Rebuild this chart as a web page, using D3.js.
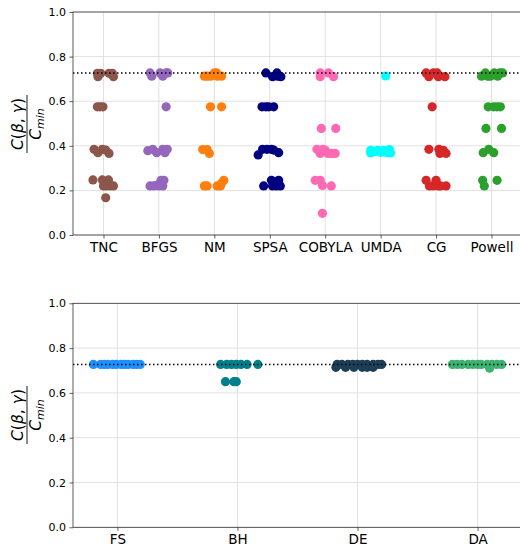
<!DOCTYPE html>
<html>
<head>
<meta charset="utf-8">
<script src="https://cdn.jsdelivr.net/npm/d3@7"></script>
<style>
  body { margin: 0; background: #fff; }
  svg { display: block; font-family: "DejaVu Sans", sans-serif; }
</style>
</head>
<body>
<svg id="chart" width="520" height="550"></svg>
<script>
// values: each point is [jitter in category units, C/Cmin]
const topCategories = ["TNC", "BFGS", "NM", "SPSA", "COBYLA", "UMDA", "CG", "Powell"];
const bottomCategories = ["FS", "BH", "DE", "DA"];
const yTicks = [0, 0.2, 0.4, 0.6, 0.8, 1.0];
const refValue = 0.727;

const tnc = [[-0.11, 0.725], [-0.05, 0.725], [-0.10, 0.71], [0.10, 0.725], [0.16, 0.725], [0.18, 0.71],
  [-0.11, 0.575], [-0.06, 0.575], [-0.01, 0.575],
  [-0.17, 0.384], [-0.10, 0.369], [-0.02, 0.384], [0.04, 0.381], [0.10, 0.366],
  [-0.19, 0.247], [-0.02, 0.247], [0.09, 0.247], [0, 0.22], [0.05, 0.22], [0.12, 0.22], [0.18, 0.22],
  [0.04, 0.167]];
const bfgs = [[-0.16, 0.727], [-0.13, 0.712], [0.02, 0.727], [0.07, 0.712], [0.13, 0.727], [0.16, 0.727],
  [0.13, 0.575],
  [-0.20, 0.378], [-0.11, 0.384], [-0.04, 0.369], [0.07, 0.384], [0.11, 0.369], [0.15, 0.384],
  [-0.16, 0.22], [-0.09, 0.22], [-0.02, 0.225], [0.04, 0.245], [0.09, 0.245], [0.07, 0.22], [0, 0.22]];
const nm = [[-0.18, 0.712], [-0.13, 0.712], [-0.07, 0.712], [0, 0.727], [0.04, 0.727], [0.05, 0.712], [0.13, 0.712],
  [-0.07, 0.575], [0.13, 0.575],
  [-0.21, 0.383], [-0.13, 0.383], [-0.09, 0.366],
  [-0.18, 0.22], [-0.13, 0.22], [0.05, 0.22], [0.11, 0.22], [0.13, 0.232], [0.17, 0.245]];
const spsa = [[-0.07, 0.727], [0.05, 0.71], [0.13, 0.727], [0.14, 0.712], [0.20, 0.71],
  [-0.14, 0.575], [-0.07, 0.575], [-0.02, 0.575], [0.07, 0.575],
  [-0.21, 0.359], [-0.13, 0.384], [-0.05, 0.384], [0.03, 0.384], [0.07, 0.381], [0.16, 0.369],
  [-0.11, 0.22], [0.03, 0.245], [0.05, 0.22], [0.12, 0.22], [0.16, 0.245], [0.19, 0.22]];
const cobyla = [[-0.09, 0.727], [-0.09, 0.71], [0.06, 0.727], [0.15, 0.71],
  [-0.07, 0.478], [0.19, 0.478],
  [-0.15, 0.384], [-0.09, 0.366], [-0.04, 0.384], [0, 0.38], [0.05, 0.366], [0.11, 0.366], [0.18, 0.366],
  [-0.18, 0.245], [-0.09, 0.245], [-0.05, 0.222], [0.11, 0.22],
  [-0.05, 0.097]];
const umda = [[0.09, 0.713],
  [-0.18, 0.38], [-0.18, 0.368], [-0.11, 0.375], [-0.05, 0.38], [0, 0.37], [0.05, 0.38], [0.11, 0.37],
  [0.16, 0.383], [0.18, 0.368]];
const cg = [[-0.18, 0.727], [-0.13, 0.71], [-0.05, 0.727], [0.02, 0.727], [0.04, 0.71], [0.16, 0.71],
  [-0.07, 0.575],
  [-0.13, 0.384], [0.05, 0.384], [0.07, 0.366], [0.09, 0.375], [0.13, 0.38], [0.18, 0.366],
  [-0.18, 0.245], [-0.12, 0.22], [-0.05, 0.22], [0, 0.245], [0.04, 0.22], [0.08, 0.22], [0.18, 0.22]];
const powell = [[-0.18, 0.712], [-0.11, 0.727], [-0.07, 0.712], [-0.02, 0.712], [0.05, 0.727], [0.11, 0.712],
  [0.15, 0.727], [0.20, 0.727],
  [-0.06, 0.575], [0.04, 0.575], [0.10, 0.575], [0.16, 0.575],
  [-0.10, 0.478], [0.18, 0.478],
  [-0.15, 0.369], [-0.05, 0.384], [0.04, 0.369],
  [-0.16, 0.245], [-0.13, 0.22], [0.10, 0.245]];

const fs = [[-0.20, 0.727], [-0.14, 0.727], [-0.11, 0.727], [-0.08, 0.727], [-0.04, 0.727], [-0.01, 0.727],
  [0.03, 0.727], [0.06, 0.727], [0.09, 0.727], [0.13, 0.727], [0.16, 0.727], [0.19, 0.727]];
const bh = [[-0.14, 0.727], [-0.09, 0.727], [-0.05, 0.727], [-0.01, 0.727], [0.03, 0.727], [0.08, 0.727],
  [0.17, 0.727], [-0.10, 0.65], [-0.03, 0.65], [-0.01, 0.65]];
const de = [[-0.17, 0.727], [-0.13, 0.727], [-0.08, 0.727], [-0.04, 0.727], [0, 0.727], [0.04, 0.727],
  [0.08, 0.727], [0.13, 0.727], [0.17, 0.727], [0.20, 0.727],
  [-0.18, 0.714], [-0.10, 0.714], [-0.03, 0.714], [0.04, 0.714], [0.08, 0.714], [0.13, 0.714]];
const da = [[-0.21, 0.727], [-0.17, 0.727], [-0.13, 0.727], [-0.08, 0.727], [-0.04, 0.727], [0, 0.727],
  [0.03, 0.727], [0.08, 0.727], [0.12, 0.727], [0.16, 0.727], [0.20, 0.727], [0.10, 0.71]];

const topSeries = [tnc, bfgs, nm, spsa, cobyla, umda, cg, powell];
const bottomSeries = [fs, bh, de, da];
const topColors = ["#8c564b", "#9467bd", "#ff7f0e", "#000080", "#ff69b4", "#00ffff", "#d62728", "#2ca02c"];
const bottomColors = ["#1e90ff", "#00808b", "#1c3f57", "#3cb371"];

const svg = d3.select("#chart");

function panel(top, bottom, cats, series, colors, pad, labelY) {
  const left = 73, right = 522;
  const x = d3.scaleLinear().domain([-pad, cats.length - 1 + pad]).range([left, right]);
  const y = d3.scaleLinear().domain([0, 1]).range([bottom, top]);
  const g = svg.append("g");

  // grid
  g.append("g").selectAll("line.h").data(yTicks).join("line")
    .attr("x1", left).attr("x2", right)
    .attr("y1", d => y(d)).attr("y2", d => y(d))
    .attr("stroke", "#d9d9d9").attr("stroke-width", 0.8);
  g.append("g").selectAll("line.v").data(cats).join("line")
    .attr("x1", (d, i) => x(i)).attr("x2", (d, i) => x(i))
    .attr("y1", top).attr("y2", bottom)
    .attr("stroke", "#d9d9d9").attr("stroke-width", 0.8);

  // points
  series.forEach((pts, i) => {
    g.append("g").selectAll("circle").data(pts).join("circle")
      .attr("cx", d => x(i + d[0]))
      .attr("cy", d => y(d[1]))
      .attr("r", 4.6)
      .attr("fill", colors[i]);
  });

  // reference line
  g.append("line")
    .attr("x1", left).attr("x2", right)
    .attr("y1", y(refValue)).attr("y2", y(refValue))
    .attr("stroke", "#000").attr("stroke-width", 1.5)
    .attr("stroke-dasharray", "1.5,2.5");

  // frame
  g.append("rect")
    .attr("x", left).attr("y", top).attr("width", right - left).attr("height", bottom - top)
    .attr("fill", "none").attr("stroke", "#333").attr("stroke-width", 0.8);

  const yAxis = g.append("g").attr("transform", `translate(${left},0)`)
    .call(d3.axisLeft(y).tickValues(yTicks).tickFormat(d3.format(".1f")).tickSize(3.5).tickPadding(3.5));
  yAxis.select(".domain").remove();
  yAxis.selectAll("line").attr("stroke", "#333").attr("stroke-width", 0.8);
  yAxis.selectAll("text").attr("font-size", 11).attr("fill", "#000")
    .attr("font-family", "DejaVu Sans");

  const xAxis = g.append("g").attr("transform", `translate(0,${bottom})`)
    .call(d3.axisBottom(x).tickValues(d3.range(cats.length)).tickFormat(i => cats[i]).tickSize(3.5).tickPadding(4));
  xAxis.select(".domain").remove();
  xAxis.selectAll("line").attr("stroke", "#333").attr("stroke-width", 0.8);
  xAxis.selectAll("text").attr("font-size", 13.5).attr("fill", "#000")
    .attr("font-family", "DejaVu Sans");

  // y label: C(beta, gamma) / C_min
  const lab = g.append("g")
    .attr("transform", `translate(27,${labelY}) rotate(-90)`)
    .attr("font-size", 15.5).attr("fill", "#000");
  const num = lab.append("text").attr("x", 0).attr("y", -4).attr("text-anchor", "middle");
  num.append("tspan").attr("font-style", "italic").text("C");
  num.append("tspan").text("(");
  num.append("tspan").attr("font-style", "italic").text("β");
  num.append("tspan").text(", ");
  num.append("tspan").attr("font-style", "italic").text("γ");
  num.append("tspan").text(")");
  lab.append("line").attr("x1", -29).attr("x2", 29).attr("y1", 0).attr("y2", 0)
    .attr("stroke", "#000").attr("stroke-width", 0.9);
  const den = lab.append("text").attr("x", 0).attr("y", 13.5).attr("text-anchor", "middle");
  den.append("tspan").attr("font-style", "italic").text("C");
  den.append("tspan").attr("font-style", "italic").attr("font-size", 11).attr("dy", 3).text("min");
}

panel(12, 235, topCategories, topSeries, topColors, 0.55, 124);
panel(303.3, 527.3, bottomCategories, bottomSeries, bottomColors, 0.37, 415);
</script>
</body>
</html>
